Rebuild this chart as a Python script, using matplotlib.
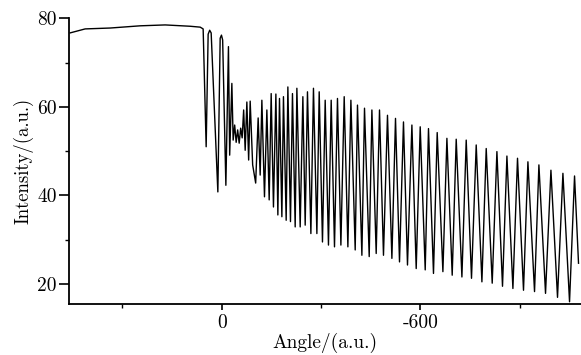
import matplotlib
matplotlib.use("Agg")
import matplotlib.pyplot as plt
from matplotlib.ticker import MultipleLocator

plt.rcParams['font.family'] = ['cmr10', 'DejaVu Serif']
plt.rcParams['axes.unicode_minus'] = False
plt.rcParams['mathtext.fontset'] = 'cm'

# flat top, then the fringe region (extremes)
angle = [457.5, 412.2, 336.7, 246.1, 170.6, 95.1, 64.9, 55.9,
         46.8, 40.8, 36.2, 31.7, 11.5, 4.5, 0.6, -3.0, -12.7, -20.5,
         -24.2, -30.8, -34.7, -39.3, -43.8, -48.3, -52.9, -57.4, -61.9,
         -66.4, -71.0, -76.1, -81.5, -86.1, -93.6,
         -102.7, -110.2, -116.3, -121.4, -129.3, -136.5, -143.5, -149.5,
         -156.4, -163.7, -169.7, -174.6, -181.8, -186.6, -194.8, -199.9,
         -207.8, -213.8, -222.0, -227.1, -237.1, -245.2, -252.2, -259.1,
         -269.4, -277.2, -287.5, -294.5, -304.4, -312.6, -322.5, -330.7,
         -340.7, -349.7, -360.0, -370.0, -381.1, -390.2, -403.2, -410.1,
         -423.4, -431.3, -445.5, -453.6, -466.6, -476.6, -488.6, -500.7,
         -514.0, -524.9, -537.0, -549.0, -561.1, -574.4, -587.4, -599.5,
         -614.6, -624.5, -639.6, -650.8, -668.0, -680.1, -696.1, -708.2,
         -725.4, -738.4, -754.4, -768.6, -785.8, -798.8, -816.9, -831.1,
         -848.0, -861.3, -879.4, -893.3, -911.4, -924.7, -944.7, -957.9,
         -977.9, -994.2, -1014.1, -1030.4, -1050.4, -1065.5, -1077.5]
intensity = [76.7, 77.6, 77.8, 78.3, 78.5, 78.2, 78.0, 77.6,
             51.0, 76.4, 77.3, 76.7, 40.8, 75.5, 76.2, 75.1, 42.3, 73.6,
             49.1, 65.3, 52.5, 55.9, 52.0, 54.8, 51.8, 55.2, 53.0,
             59.3, 50.2, 61.1, 48.0, 61.3, 46.9,
             42.8, 57.5, 44.6, 61.5, 39.7, 59.3, 39.0, 63.0,
             37.4, 62.9, 35.6, 61.9, 35.2, 62.3, 34.4, 64.5,
             34.1, 63.0, 32.9, 64.2, 32.9, 62.3, 33.3, 63.4,
             31.4, 64.2, 31.4, 63.4, 29.5, 61.5, 28.8, 61.5,
             28.4, 61.9, 28.8, 62.3, 28.4, 61.5, 27.7, 60.4,
             26.5, 59.7, 26.2, 59.3, 26.9, 59.3, 26.5, 58.1,
             25.8, 57.4, 25.0, 56.6, 24.3, 55.9, 23.5, 55.5,
             23.2, 55.1, 22.4, 54.2, 22.8, 52.9, 22.0, 52.7,
             21.6, 52.5, 21.3, 51.4, 20.5, 50.6, 20.2, 49.9,
             19.5, 48.9, 19.0, 48.4, 18.6, 47.6, 18.3, 46.9,
             17.9, 45.7, 17.0, 45.0, 16.0, 44.4, 24.7]

fig = plt.figure(figsize=(5.81, 3.55), dpi=100)
ax = fig.add_axes([0.1193, 0.1437, 0.8807, 0.8048])
ax.plot(angle, intensity, color='black', lw=1.0)

ax.set_xlim(460, -1085)
ax.set_ylim(15.5, 80)
ax.xaxis.set_major_locator(MultipleLocator(600))
ax.xaxis.set_minor_locator(MultipleLocator(300))
ax.yaxis.set_major_locator(MultipleLocator(20))
ax.yaxis.set_minor_locator(MultipleLocator(10))

for s in ['top', 'right']:
    ax.spines[s].set_visible(False)
for s in ['left', 'bottom']:
    ax.spines[s].set_linewidth(1.3)

ax.tick_params(axis='y', which='major', length=7, width=1.2, labelsize=14, pad=2)
ax.tick_params(axis='y', which='minor', length=3, width=1.0)
ax.tick_params(axis='x', which='major', length=4, width=1.2, labelsize=14, pad=3)
ax.tick_params(axis='x', which='minor', length=3, width=1.0)

ax.set_xlabel('Angle/(a.u.)', fontsize=14, labelpad=1)
ax.set_ylabel('Intensity/(a.u.)', fontsize=13.5, labelpad=3)

fig.savefig('out.png', dpi=100)
